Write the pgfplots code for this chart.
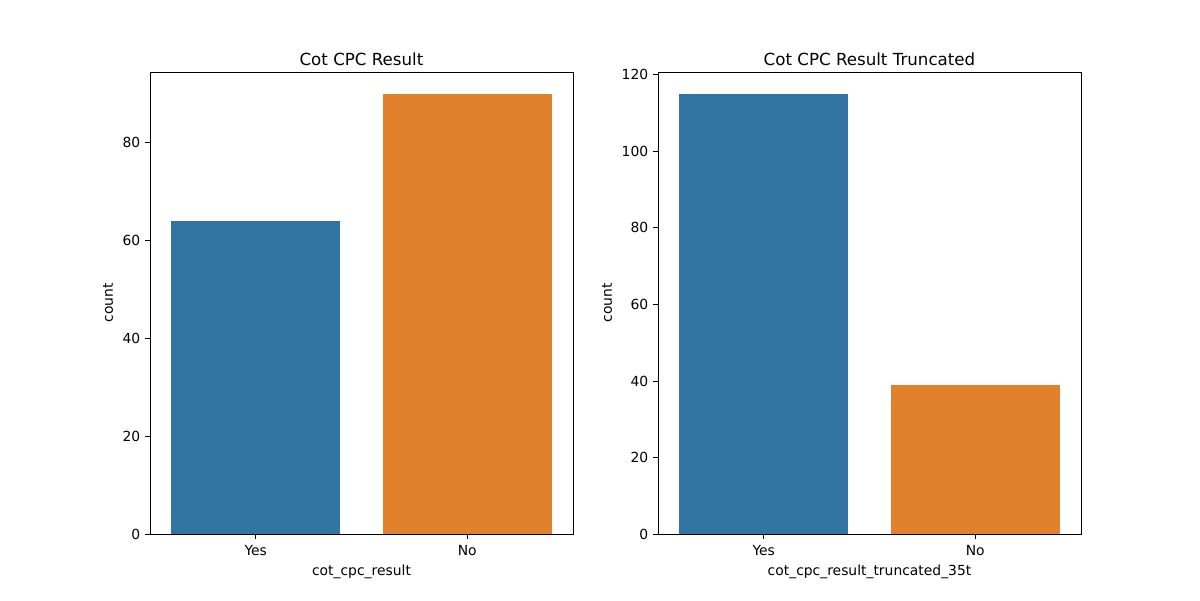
\documentclass[border=0pt]{standalone}
\usepackage{pgfplots}
\pgfplotsset{compat=1.18}
\usepackage{fontspec}
\setmainfont{DejaVu Sans}
\definecolor{c1}{HTML}{3274A1}
\definecolor{c2}{HTML}{E1812C}
\begin{document}
\begin{tikzpicture}
\path (0,0) rectangle (864pt,432pt);
\pgfplotsset{myax/.style={
  scale only axis, width=304.56pt, height=332.64pt,
  axis line style={line width=0.6pt, black},
  every tick/.style={black, line width=0.6pt},
  major tick length=3.5pt, tick align=outside, tick pos=left,
  xmin=-0.5, xmax=1.5, ymin=0,
  xtick={0,1}, xticklabels={Yes,No},
  ticklabel style={font=\fontsize{10}{12}\selectfont},
  /pgf/number format/assume math mode=true,
  label style={font=\fontsize{10}{12}\selectfont},
  title style={font=\fontsize{12}{14}\selectfont, at={(0.5,1)}, anchor=south, yshift=-5pt},
  ylabel={count},
  ybar, bar width=0.8, 
  every axis plot/.append style={draw=none, bar shift=0pt},
  xticklabel style={yshift=-1pt},
}}
\begin{axis}[myax, at={(108pt,47.52pt)}, anchor=south west,
  ymax=94.5, ytick={0,20,40,60,80},
  title={Cot CPC Result}, xlabel={cot\_cpc\_result}]
\addplot[fill=c1] coordinates {(0,64)};
\addplot[fill=c2] coordinates {(1,90)};
\end{axis}
\begin{axis}[myax, at={(473.76pt,47.52pt)}, anchor=south west,
  ymax=120.75, ytick={0,20,40,60,80,100,120},
  title={Cot CPC Result Truncated}, xlabel={cot\_cpc\_result\_truncated\_35t}]
\addplot[fill=c1] coordinates {(0,115)};
\addplot[fill=c2] coordinates {(1,39)};
\end{axis}
\end{tikzpicture}
\end{document}
